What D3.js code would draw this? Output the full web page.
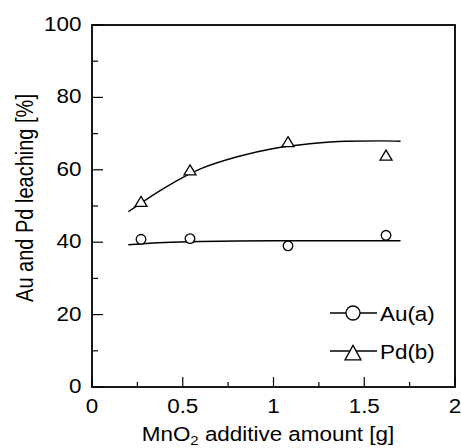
<!DOCTYPE html>
<html>
<head>
<meta charset="utf-8">
<script src="https://cdn.jsdelivr.net/npm/d3@7"></script>
<style>
  body { margin: 0; background: #fff; }
  text { font-family: "Liberation Sans", Arial, sans-serif; fill: #000; }
</style>
</head>
<body>
<script>
// measured points
const auX = [0.27, 0.54, 1.08, 1.62];
const auY = [40.8, 41.0, 39.0, 41.9];
const pdX = [0.27, 0.54, 1.08, 1.62];
const pdY = [50.8, 59.5, 67.3, 63.6];

// fitted curves
const auFitX = [0.2, 0.4, 0.6, 0.8, 1.0, 1.3, 1.7];
const auFitY = [39.3, 39.9, 40.2, 40.35, 40.4, 40.4, 40.4];
const pdFitX = [0.2, 0.4, 0.6, 0.8, 1.0, 1.2, 1.4, 1.6, 1.7];
const pdFitY = [48.4, 55.0, 60.3, 63.6, 65.9, 67.2, 67.9, 68.0, 67.9];

const xTicks = [0, 0.5, 1, 1.5, 2];
const xMinor = [0.25, 0.75, 1.25, 1.75];
const yTicks = [0, 20, 40, 60, 80, 100];
const yMinor = [10, 30, 50, 70, 90];

const width = 461, height = 448;
const margin = {top: 25, right: 6, bottom: 61, left: 92};
const fs = 19.5, sx = 1.15;   // text is a bit wider than tall in the original

const svg = d3.select("body").append("svg")
    .attr("width", width)
    .attr("height", height);

const x = d3.scaleLinear().domain([0, 2]).range([margin.left, width - margin.right]);
const y = d3.scaleLinear().domain([0, 100]).range([height - margin.bottom, margin.top]);

function label(g, tx, ty, anchor, str) {
  return g.append("text")
      .attr("transform", `translate(${tx},${ty}) scale(${sx},1)`)
      .attr("text-anchor", anchor)
      .attr("font-size", fs)
      .text(str);
}

function triPath(w, h) {
  return `M0,${-2 * h / 3}L${w / 2},${h / 3}L${-w / 2},${h / 3}Z`;
}

// ticks, pointing inwards
svg.append("g")
  .selectAll("line")
  .data(yTicks.map(v => [v, 11]).concat(yMinor.map(v => [v, 6])))
  .join("line")
    .attr("x1", x(0)).attr("x2", d => x(0) + d[1])
    .attr("y1", d => y(d[0])).attr("y2", d => y(d[0]))
    .attr("stroke", "#000").attr("stroke-width", 1.2);

svg.append("g")
  .selectAll("line")
  .data(xTicks.map(v => [v, 10]).concat(xMinor.map(v => [v, 5])))
  .join("line")
    .attr("x1", d => x(d[0])).attr("x2", d => x(d[0]))
    .attr("y1", y(0)).attr("y2", d => y(0) - d[1])
    .attr("stroke", "#000").attr("stroke-width", 1.2);

// frame
svg.append("rect")
    .attr("x", x(0)).attr("y", y(100))
    .attr("width", x(2) - x(0)).attr("height", y(0) - y(100))
    .attr("fill", "none").attr("stroke", "#000").attr("stroke-width", 1.8);

// tick labels
const gy = svg.append("g");
yTicks.forEach(d => label(gy, 81.5, y(d) + 6, "end", d));
const gx = svg.append("g");
xTicks.forEach(d => label(gx, x(d), 413, "middle", d));

// axis titles
const xt = svg.append("text")
    .attr("transform", `translate(268,441) scale(${sx},1)`)
    .attr("text-anchor", "middle")
    .attr("font-size", fs);
xt.append("tspan").text("MnO");
xt.append("tspan").attr("font-size", 13).attr("dy", 4).text("2");
xt.append("tspan").attr("dy", -4).text(" additive amount [g]");

svg.append("text")
    .attr("transform", `translate(33,198) rotate(-90) scale(1,${sx})`)
    .attr("text-anchor", "middle")
    .attr("font-size", 20)
    .text("Au and Pd leaching [%]");

// fitted curves
const line = d3.line()
    .x(d => x(d[0]))
    .y(d => y(d[1]))
    .curve(d3.curveMonotoneX);

svg.append("path")
    .datum(d3.zip(auFitX, auFitY))
    .attr("fill", "none").attr("stroke", "#000").attr("stroke-width", 1.4)
    .attr("d", line);

svg.append("path")
    .datum(d3.zip(pdFitX, pdFitY))
    .attr("fill", "none").attr("stroke", "#000").attr("stroke-width", 1.4)
    .attr("d", line);

// markers
svg.append("g")
  .selectAll("circle")
  .data(d3.zip(auX, auY))
  .join("circle")
    .attr("cx", d => x(d[0])).attr("cy", d => y(d[1]))
    .attr("r", 4.8)
    .attr("fill", "#fff").attr("stroke", "#000").attr("stroke-width", 1.3);

svg.append("g")
  .selectAll("path")
  .data(d3.zip(pdX, pdY))
  .join("path")
    .attr("transform", d => `translate(${x(d[0])},${y(d[1])})`)
    .attr("d", triPath(12, 10))
    .attr("fill", "#fff").attr("stroke", "#000").attr("stroke-width", 1.3);

// legend
const legend = svg.append("g");
const rows = [{label: "Au(a)", shape: "circle", cy: 313, base: 321},
              {label: "Pd(b)", shape: "tri", cy: 351, base: 358.5}];
rows.forEach(r => {
  legend.append("line")
      .attr("x1", 330).attr("x2", 377)
      .attr("y1", r.cy).attr("y2", r.cy)
      .attr("stroke", "#000").attr("stroke-width", 1.3);
  if (r.shape === "circle") {
    legend.append("circle")
        .attr("cx", 353).attr("cy", r.cy).attr("r", 7)
        .attr("fill", "#fff").attr("stroke", "#000").attr("stroke-width", 1.3);
  } else {
    legend.append("path")
        .attr("transform", `translate(353,${r.cy + 4})`)
        .attr("d", triPath(16, 14.5))
        .attr("fill", "#fff").attr("stroke", "#000").attr("stroke-width", 1.3);
  }
  label(legend, 380, r.base, "start", r.label);
});
</script>
</body>
</html>
